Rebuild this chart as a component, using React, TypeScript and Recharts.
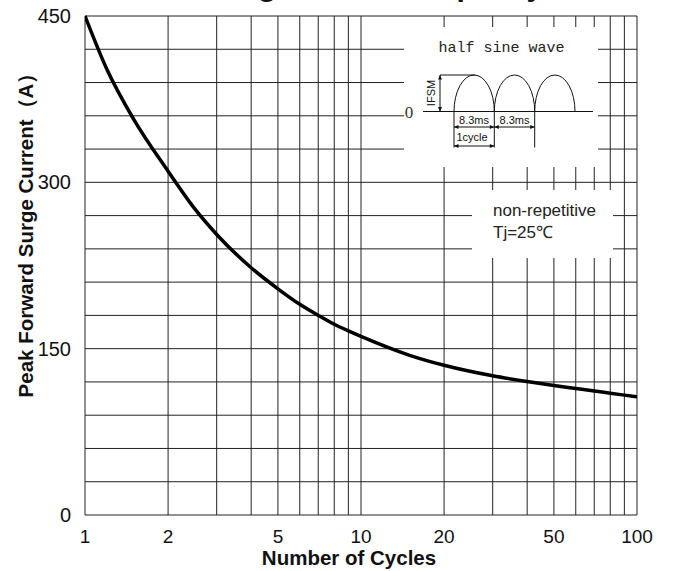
import React from "react";
import { LineChart, Line, XAxis, YAxis, CartesianGrid } from "recharts";

document.body.style.margin = "0";

const FONT = '"Liberation Sans", Arial, sans-serif';

// points
const cycles = [1, 1.2, 1.5, 2, 2.5, 3, 4, 5, 6, 7, 8, 9, 10, 15, 20, 30, 40, 50, 60, 70, 80, 90, 100];
const surgeCurrent = [
  450, 402, 357, 310, 276, 253, 223, 204, 190, 180, 172, 166, 161, 144, 135, 125.5, 120.3, 116.7, 114.1, 111.9,
  109.8, 108.1, 106.6,
];

const gridCycles = [1, 2, 3, 4, 5, 6, 7, 8, 9, 10, 20, 30, 40, 50, 60, 70, 80, 90, 100];
const xTickLabels = [1, 2, 5, 10, 20, 50, 100];
const yTicks = [0, 30, 60, 90, 120, 150, 180, 210, 240, 270, 300, 330, 360, 390, 420, 450];
const yTickLabels = [0, 150, 300, 450];

const data = cycles.map((c, i) => ({ cycles: c, current: surgeCurrent[i] }));

type Dir = "up" | "down" | "left" | "right";

function head(x: number, y: number, dir: Dir) {
  const l = 4.5;
  const w = 2;
  let pts = "";
  if (dir === "left") pts = `${x},${y} ${x + l},${y - w} ${x + l},${y + w}`;
  if (dir === "right") pts = `${x},${y} ${x - l},${y - w} ${x - l},${y + w}`;
  if (dir === "up") pts = `${x},${y} ${x - w},${y + l} ${x + w},${y + l}`;
  if (dir === "down") pts = `${x},${y} ${x - w},${y - l} ${x + w},${y - l}`;
  return <polygon points={pts} fill="#111" />;
}

function HArrow({ x1, x2, y }: { x1: number; x2: number; y: number }) {
  return (
    <g>
      <line x1={x1} x2={x2} y1={y} y2={y} stroke="#111" strokeWidth={1} />
      {head(x1, y, "left")}
      {head(x2, y, "right")}
    </g>
  );
}

function Overlay() {
  const base = 111.5;
  const top = 75;
  const cuts = [454, 494.3, 534.7, 575];
  let arch = `M${cuts[0]},${base}`;
  for (let i = 1; i < cuts.length; i++) {
    const rx = (cuts[i] - cuts[i - 1]) / 2;
    arch += ` A${rx},${base - top} 0 0 1 ${cuts[i]},${base}`;
  }
  return (
    <svg
      width={678}
      height={571}
      style={{ position: "absolute", left: 0, top: 0, pointerEvents: "none", overflow: "visible" }}
      fontFamily={FONT}
    >
      {/* title, cut off at the top edge like in the scan */}
      <text x={3} y={-4} fontSize={30} fontWeight={700} fill="#111">
        Peak Forward Surge Current Capacity
      </text>

      {/* axis titles */}
      <text
        x={25}
        y={230}
        transform="rotate(-90 25 230)"
        textAnchor="middle"
        dominantBaseline="central"
        fontSize={20.5}
        fontWeight={700}
        fill="#111"
      >
        Peak Forward Surge Current（A）
      </text>
      <text x={349} y={557} textAnchor="middle" dominantBaseline="central" fontSize={20.5} fontWeight={700} fill="#111">
        Number of Cycles
      </text>

      {/* half sine wave inset */}
      <rect x={404} y={27} width={194} height={140} fill="#fff" />
      <text
        x={501.5}
        y={48}
        textAnchor="middle"
        dominantBaseline="central"
        fontFamily='"Liberation Mono", monospace'
        fontSize={15}
        fill="#222"
      >
        half sine wave
      </text>
      <line x1={423} x2={593} y1={base} y2={base} stroke="#111" strokeWidth={1} />
      <text
        x={409}
        y={112}
        textAnchor="middle"
        dominantBaseline="central"
        fontFamily='"Liberation Serif", serif'
        fontSize={17}
        fill="#333"
      >
        0
      </text>
      <path d={arch} fill="none" stroke="#111" strokeWidth={1} />
      <line x1={440} x2={475} y1={top} y2={top} stroke="#111" strokeWidth={1} />
      <line x1={440} x2={440} y1={top} y2={base} stroke="#111" strokeWidth={1} />
      {head(440, top, "up")}
      {head(440, base, "down")}
      <text
        x={431}
        y={93}
        transform="rotate(-90 431 93)"
        textAnchor="middle"
        dominantBaseline="central"
        fontSize={11}
        fill="#111"
      >
        IFSM
      </text>
      {cuts.slice(0, 3).map((cx) => (
        <line key={cx} x1={cx} x2={cx} y1={base} y2={147.5} stroke="#111" strokeWidth={1} />
      ))}
      <HArrow x1={454} x2={494.3} y={127} />
      <HArrow x1={494.3} x2={534.7} y={127} />
      <HArrow x1={454} x2={494.3} y={146} />
      <text x={474} y={120} textAnchor="middle" dominantBaseline="central" fontSize={11} fill="#111">
        8.3ms
      </text>
      <text x={514.5} y={120} textAnchor="middle" dominantBaseline="central" fontSize={11} fill="#111">
        8.3ms
      </text>
      <text x={472} y={137} textAnchor="middle" dominantBaseline="central" fontSize={11} fill="#111">
        1cycle
      </text>

      {/* conditions box */}
      <rect x={472} y={190} width={141} height={68} fill="#fff" />
      <text x={493} y={210} dominantBaseline="central" fontSize={17} fill="#222">
        non-repetitive
      </text>
      <text x={493} y={232} dominantBaseline="central" fontSize={17} fill="#222">
        Tj=25℃
      </text>
    </svg>
  );
}

export default function App() {
  return (
    <div style={{ position: "relative", width: 678, height: 571, fontFamily: FONT }}>
      <LineChart width={678} height={571} data={data} margin={{ top: 16, right: 41, bottom: 0, left: 0 }}>
        <CartesianGrid stroke="#222" strokeWidth={1} horizontalValues={yTicks} verticalValues={gridCycles} />
        <XAxis
          dataKey="cycles"
          type="number"
          scale="log"
          domain={[1, 100]}
          ticks={gridCycles}
          interval={0}
          allowDataOverflow
          height={56}
          tickLine={false}
          axisLine={false}
          tickSize={6}
          tickMargin={9}
          tick={{ fill: "#111", fontSize: 19, fontFamily: FONT }}
          tickFormatter={(v: number) => (xTickLabels.includes(v) ? String(v) : "")}
        />
        <YAxis
          type="number"
          domain={[0, 450]}
          ticks={yTicks}
          interval={0}
          width={85}
          tickLine={false}
          axisLine={false}
          tickSize={6}
          tickMargin={8}
          tick={{ fill: "#111", fontSize: 20, fontFamily: FONT }}
          tickFormatter={(v: number) => (yTickLabels.includes(v) ? String(v) : "")}
        />
        <Line
          dataKey="current"
          type="monotone"
          stroke="#000"
          strokeWidth={3.5}
          dot={false}
          isAnimationActive={false}
        />
      </LineChart>
      <Overlay />
    </div>
  );
}
